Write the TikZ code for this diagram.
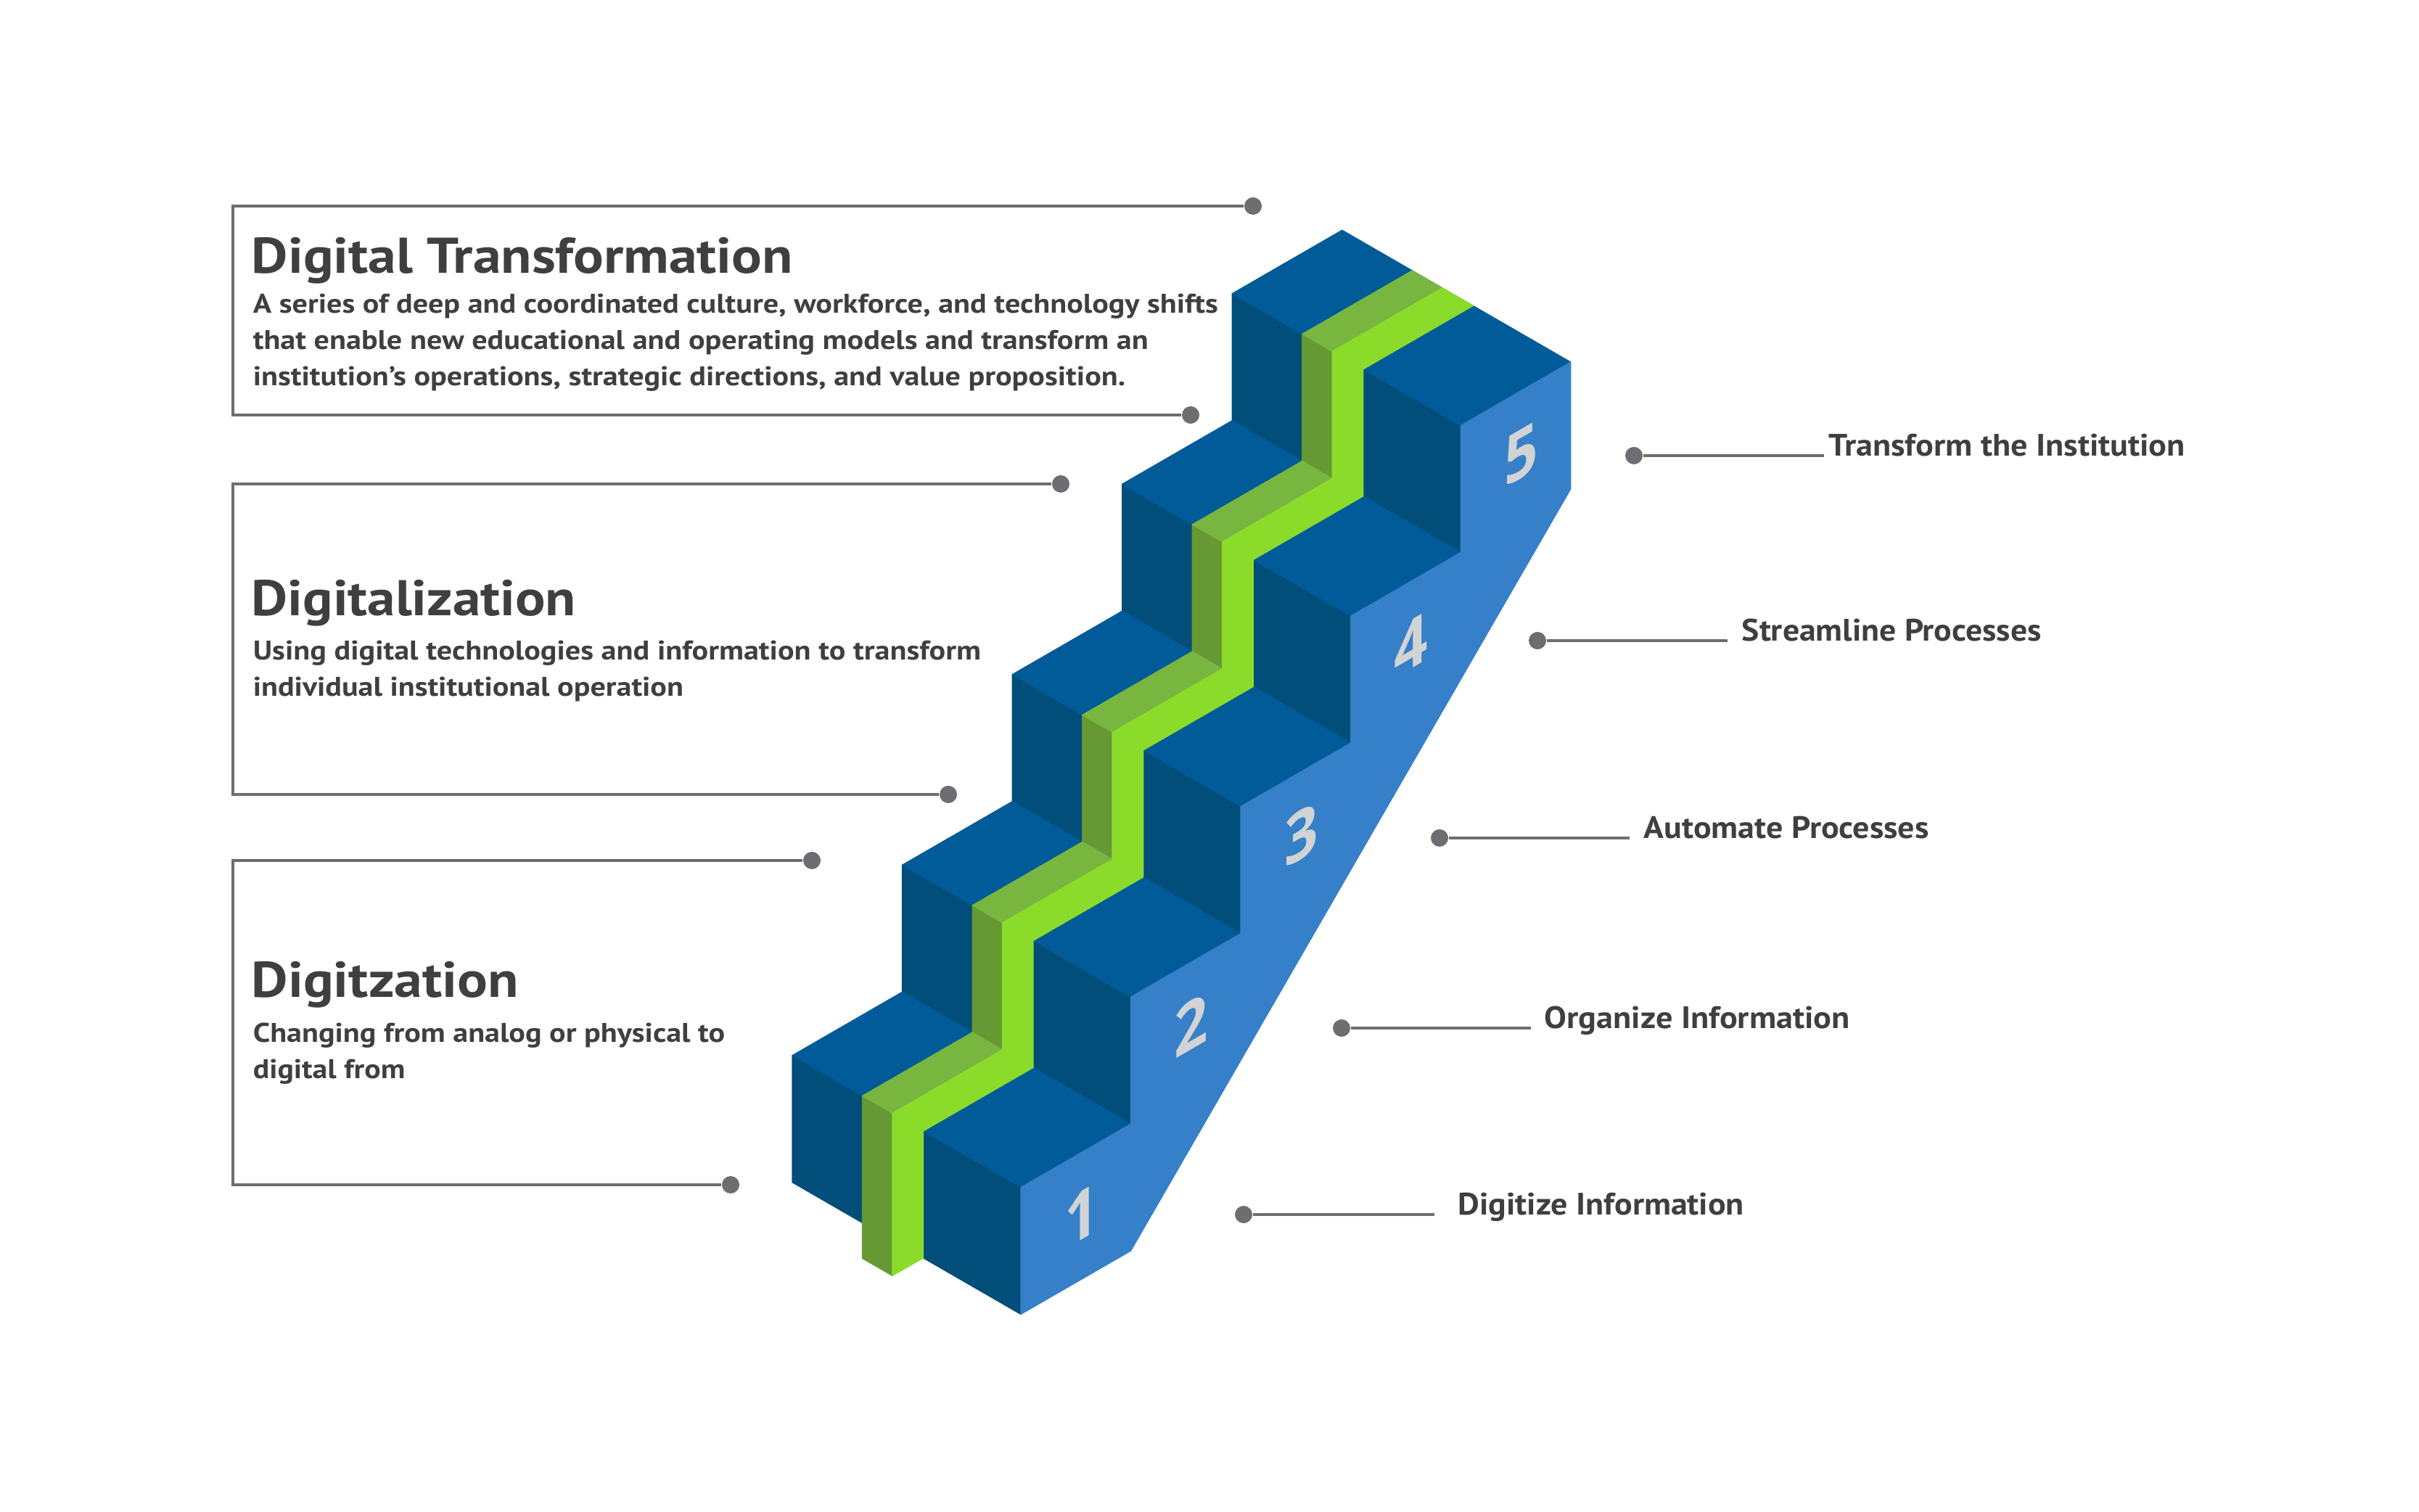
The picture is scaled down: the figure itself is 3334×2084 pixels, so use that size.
\documentclass[tikz,border=0pt]{standalone}
\usepackage{fontspec}
\setmainfont{PT Sans}
\newfontfamily\numfont{Open Sans}
\usepackage{graphicx}
\definecolor{tread}{HTML}{005B98}
\definecolor{riser}{HTML}{004E79}
\definecolor{sideblue}{HTML}{3580C8}
\definecolor{gbright}{HTML}{8BDC2A}
\definecolor{glight}{HTML}{79B640}
\definecolor{golive}{HTML}{669934}
\definecolor{numgray}{HTML}{D1D3D4}
\definecolor{linegray}{HTML}{6D6E71}
\definecolor{txtgray}{HTML}{3F3F41}
\newlength\fitlen
\newcommand\fitw[2]{\settowidth\fitlen{#2}\pgfmathsetmacro\fitr{#1/\fitlen}\scalebox{\fitr}[1]{#2}}
\tikzset{
  face/.style={fill=#1, draw=#1, line width=0.3pt, line join=round},
  head/.style={anchor=base west, inner sep=0pt, text=txtgray, font=\bfseries\fontsize{17.3}{20}\selectfont},
  body/.style={anchor=base west, inner sep=0pt, text=txtgray, font=\bfseries\fontsize{9.3}{12}\selectfont},
  lab/.style={anchor=base west, inner sep=0pt, text=txtgray, font=\bfseries\fontsize{10.7}{13}\selectfont},
  num/.style={text=numgray, inner sep=0pt, font=\numfont\bfseries\fontsize{23.5}{28}\selectfont},
  gline/.style={draw=linegray, line width=1pt},
  gdot/.style={circle, fill=linegray, minimum size=6pt, inner sep=0pt},
}
\begin{document}
\begin{tikzpicture}[x=0.25pt,y=-0.25pt]
\fill[white] (0,0) rectangle (3334,2084);
\useasboundingbox (0,0) rectangle (3334,2084);

% ---------- staircase (isometric) ----------
\def\D{175}\def\H{175}\def\W{363.7}
\def\wa{111.5}\def\wb{159.3}\def\wc{208.5}
\begin{scope}[shift={(1092,1629.7)}, x={(0.2165pt,0.125pt)}, y={(0.2165pt,-0.125pt)}, z={(0pt,0.25pt)}]
  % risers
  \foreach \n in {0,...,4}{
    \path[face=riser] (\n*\D,0,\n*\H) -- (\n*\D,\W,\n*\H) -- (\n*\D,\W,{(\n+1)*\H}) -- (\n*\D,0,{(\n+1)*\H}) -- cycle;
  }
  % treads
  \foreach \n in {0,...,4}{
    \path[face=tread] (\n*\D,0,{(\n+1)*\H}) -- ({(\n+1)*\D},0,{(\n+1)*\H}) -- ({(\n+1)*\D},\W,{(\n+1)*\H}) -- (\n*\D,\W,{(\n+1)*\H}) -- cycle;
  }
  % side face
  \path[face=sideblue] (0,\W,0) -- (\D,\W,0) -- (5*\D,\W,4*\H) -- (5*\D,\W,5*\H) -- (4*\D,\W,5*\H) -- (4*\D,\W,4*\H)
     -- (3*\D,\W,4*\H) -- (3*\D,\W,3*\H) -- (2*\D,\W,3*\H) -- (2*\D,\W,2*\H) -- (\D,\W,2*\H) -- (\D,\W,\H) -- (0,\W,\H) -- cycle;
  % green ribbon: left band on risers (olive)
  \path[face=golive] (0,\wa,-49) -- (0,\wb,-49) -- (0,\wb,\H) -- (0,\wa,\H) -- cycle;
  \foreach \n in {1,...,4}{
    \path[face=golive] (\n*\D,\wa,\n*\H) -- (\n*\D,\wb,\n*\H) -- (\n*\D,\wb,{(\n+1)*\H}) -- (\n*\D,\wa,{(\n+1)*\H}) -- cycle;
  }
  % left band on treads (light green)
  \foreach \n in {0,...,4}{
    \path[face=glight] (\n*\D,\wa,{(\n+1)*\H}) -- ({(\n+1)*\D},\wa,{(\n+1)*\H}) -- ({(\n+1)*\D},\wb,{(\n+1)*\H}) -- (\n*\D,\wb,{(\n+1)*\H}) -- cycle;
  }
  % right band (bright green)
  \path[face=gbright] (0,\wb,-49) -- (0,\wb,\H) -- (\D,\wb,\H) -- (\D,\wb,2*\H) -- (2*\D,\wb,2*\H) -- (2*\D,\wb,3*\H)
     -- (3*\D,\wb,3*\H) -- (3*\D,\wb,4*\H) -- (4*\D,\wb,4*\H) -- (4*\D,\wb,5*\H) -- (5*\D,\wb,5*\H)
     -- (5*\D,\wc,5*\H) -- (4*\D,\wc,5*\H) -- (4*\D,\wc,4*\H) -- (3*\D,\wc,4*\H) -- (3*\D,\wc,3*\H)
     -- (2*\D,\wc,3*\H) -- (2*\D,\wc,2*\H) -- (\D,\wc,2*\H) -- (\D,\wc,\H) -- (0,\wc,\H) -- (0,\wc,0) -- cycle;
  % step numbers on the side face
  \foreach \n in {1,...,5}{
    \node[num, cm={0.866,0.5,0,1,(0,0)}] (num\n) at ({(\n-0.45)*\D},\W,{(\n-0.5)*\H}) {\n};
  }
\end{scope}

% ---------- left boxes ----------
\node[gdot] (d1t) at (1727,284) {};
\node[gdot] (d1b) at (1641,572) {};
\coordinate (c1t) at (321,284);
\coordinate (c1b) at (321,572);
\draw[gline] (d1t) -- (c1t) -- (c1b) -- (d1b);

\node[gdot] (d2t) at (1462,667) {};
\node[gdot] (d2b) at (1307,1095) {};
\coordinate (c2t) at (321,667);
\coordinate (c2b) at (321,1095);
\draw[gline] (d2t) -- (c2t) -- (c2b) -- (d2b);

\node[gdot] (d3t) at (1119,1186) {};
\node[gdot] (d3b) at (1007,1633) {};
\coordinate (c3t) at (321,1186);
\coordinate (c3b) at (321,1633);
\draw[gline] (d3t) -- (c3t) -- (c3b) -- (d3b);

\node[head] (h1) at (346,376.7) {\fitw{186.5pt}{Digital Transformation}};
\node[body] (b1a) at (348,431.7) {\fitw{332.5pt}{A series of deep and coordinated culture, workforce, and technology shifts}};
\node[body] (b1b) at (348,481.7) {\fitw{308.5pt}{that enable new educational and operating models and transform an}};
\node[body] (b1c) at (348,531.7) {\fitw{300.6pt}{institution's operations, strategic directions, and value proposition.}};

\node[head] (h2) at (346,848.3) {\fitw{111.75pt}{Digitalization}};
\node[body] (b2a) at (348,910) {\fitw{250.8pt}{Using digital technologies and information to transform}};
\node[body] (b2b) at (348,960) {\fitw{148.3pt}{individual institutional operation}};

\node[head] (h3) at (346,1375) {\fitw{92pt}{Digitzation}};
\node[body] (b3a) at (348,1437) {\fitw{162.6pt}{Changing from analog or physical to}};
\node[body] (b3b) at (348,1487) {\fitw{52.4pt}{digital from}};

% ---------- right labels ----------
\node[gdot] (r5) at (2252,628) {};
\coordinate (r5e) at (2514,628);
\draw[gline] (r5) -- (r5e);
\node[lab] (l5) at (2520,629) {\fitw{122.75pt}{Transform the Institution}};

\node[gdot] (r4) at (2119,883) {};
\coordinate (r4e) at (2381,883);
\draw[gline] (r4) -- (r4e);
\node[lab] (l4) at (2400,884) {\fitw{103.2pt}{Streamline Processes}};

\node[gdot] (r3) at (1984,1155) {};
\coordinate (r3e) at (2246,1155);
\draw[gline] (r3) -- (r3e);
\node[lab] (l3) at (2265,1156) {\fitw{98.2pt}{Automate Processes}};

\node[gdot] (r2) at (1849,1417) {};
\coordinate (r2e) at (2110,1417);
\draw[gline] (r2) -- (r2e);
\node[lab] (l2) at (2128,1418) {\fitw{105.2pt}{Organize Information}};

\node[gdot] (r1) at (1714,1674) {};
\coordinate (r1e) at (1977,1674);
\draw[gline] (r1) -- (r1e);
\node[lab] (l1) at (2009,1675) {\fitw{98.5pt}{Digitize Information}};
\end{tikzpicture}
\end{document}
